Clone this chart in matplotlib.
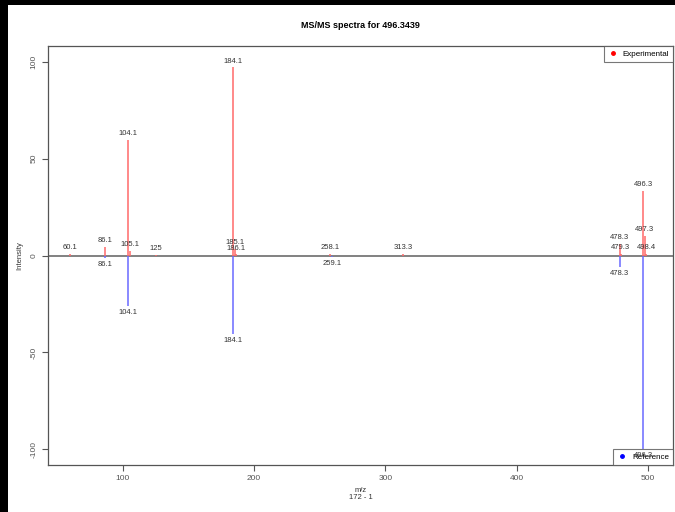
import matplotlib
matplotlib.use("Agg")
import matplotlib.pyplot as plt
from matplotlib.patches import Rectangle
from matplotlib.lines import Line2D

plt.rcParams['font.family'] = ['Liberation Sans', 'DejaVu Sans']
plt.rcParams['axes.unicode_minus'] = False

# Экспериментальный спектр (вверх)
exp_mz = [60.1, 86.1, 104.1, 105.1, 125.0, 184.1, 185.1, 186.1, 258.1, 313.3,
          478.3, 479.3, 496.3, 497.3, 498.4]
exp_int = [0.8, 4.5, 59.5, 2.5, 0.5, 97.0, 3.5, 0.6, 1.0, 1.0,
           6.0, 1.0, 33.5, 10.0, 1.0]
exp_lab = ["60.1", "86.1", "104.1", "105.1", "125", "184.1", "185.1", "186.1",
           "258.1", "313.3", "478.3", "479.3", "496.3", "497.3", "498.4"]

# Референсный спектр (вниз)
ref_mz = [86.1, 104.1, 184.1, 259.1, 478.3, 496.3]
ref_int = [-1.5, -26.0, -40.5, -0.8, -6.0, -100.0]
ref_lab = ["86.1", "104.1", "184.1", "259.1", "478.3", "496.3"]

fig = plt.figure(figsize=(6.75, 5.12), dpi=100, facecolor="black")
fig.patches.append(Rectangle((8 / 675, 0), 1, 1 - 5 / 512, transform=fig.transFigure,
                             facecolor="white", edgecolor="none", zorder=-1))
ax = fig.add_axes([48 / 675, 1 - 465 / 512, 625 / 675, 419 / 512])

ax.axhline(0, color="#777777", lw=1.3, zorder=1)
ax.vlines(exp_mz, 0, exp_int, color="#ff6a6a", lw=1.1, zorder=2)
ax.vlines(ref_mz, 0, ref_int, color="#6a6aff", lw=1.1, zorder=2)

for x, y, t in zip(exp_mz, exp_int, exp_lab):
    ax.annotate(t, (x, y), xytext=(0, 2), textcoords="offset points",
                ha="center", va="bottom", fontsize=5.5, color="#333333", zorder=3)
for x, y, t in zip(ref_mz, ref_int, ref_lab):
    ax.annotate(t, (x, y), xytext=(0, -2), textcoords="offset points",
                ha="center", va="top", fontsize=5.5, color="#333333", zorder=3)

ax.set_xlim(43, 519)
ax.set_ylim(-108, 108)
ax.set_xticks([100, 200, 300, 400, 500])
ax.set_yticks([-100, -50, 0, 50, 100])
ax.tick_params(labelsize=6, colors="#555555", length=4, width=0.8)
for lab in ax.get_yticklabels():
    lab.set_rotation(90)
    lab.set_va("center")
for s in ax.spines.values():
    s.set_color("#555555")
    s.set_linewidth(0.9)

ax.set_title("MS/MS spectra for 496.3439", fontsize=6.5, fontweight="bold", pad=13)
ax.set_xlabel("m/z\n172 - 1", fontsize=5.5, color="#333333", labelpad=3, linespacing=1.0)
ax.set_ylabel("Intensity", fontsize=5.5, color="#333333", labelpad=5)

h1 = [Line2D([], [], ls="none", marker="o", color="red", markersize=2.5)]
leg1 = ax.legend(h1, ["Experimental"], loc="upper right", fontsize=5.8, fancybox=False,
                 edgecolor="#555555", borderaxespad=0, handletextpad=0.6, handlelength=1.2,
                 borderpad=0.5)
leg1.get_frame().set_linewidth(0.8)
ax.add_artist(leg1)
h2 = [Line2D([], [], ls="none", marker="o", color="blue", markersize=2.5)]
leg2 = ax.legend(h2, ["Reference"], loc="lower right", fontsize=5.8, fancybox=False,
                 edgecolor="#555555", borderaxespad=0, handletextpad=0.6, handlelength=1.2,
                 borderpad=0.5)
leg2.get_frame().set_linewidth(0.8)
leg2.set_zorder(2.5)

fig.savefig("out.png", dpi=100, facecolor=fig.get_facecolor())
